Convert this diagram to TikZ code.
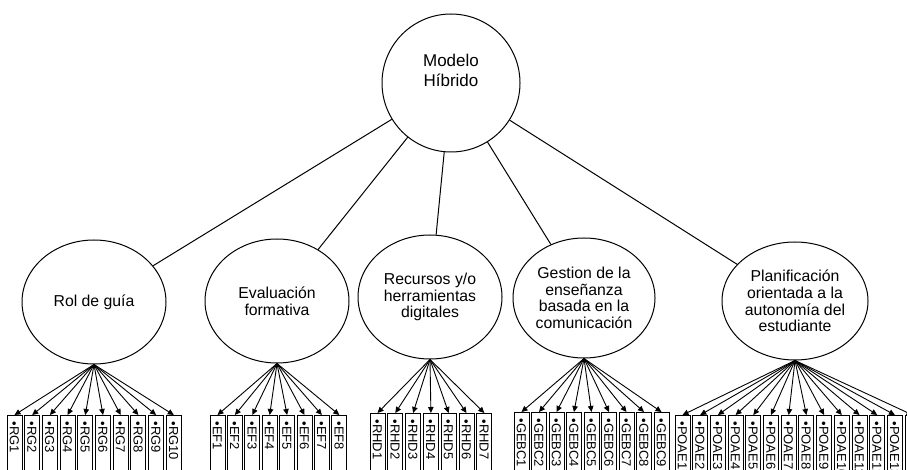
\documentclass[tikz,border=0pt]{standalone}
\usepackage{fontspec}
\setmainfont{Liberation Sans}
\usetikzlibrary{shapes.geometric,arrows.meta}
\begin{document}
\begin{tikzpicture}[x=1pt,y=-1pt,
  lat/.style={ellipse, draw, line width=1pt, minimum width=144pt, minimum height=124pt,
    inner sep=0pt, align=center, font=\fontsize{15.8}{16.7}\selectfont},
  topc/.style={circle, draw, line width=1pt, minimum size=138pt, inner sep=0pt,
    align=center, font=\fontsize{17}{20}\selectfont},
  ind/.style={draw, line width=0.9pt, rotate=-90, anchor=west, minimum width=80pt,
    minimum height=15pt, inner xsep=5pt, inner ysep=0pt, text width=68pt, align=left,
    text height=9.5pt, text depth=0pt, font=\fontsize{13}{13}\selectfont},
  arr/.style={line width=0.9pt, -{Triangle[length=6pt,width=5.5pt]}},
  link/.style={line width=1pt}]
\useasboundingbox (0,0) rectangle (907,470);
\clip (0,0) rectangle (907,470);
\node[topc] (mh) at (451,83) {Modelo\\Híbrido\\[6pt]};
\node[lat] (rg) at (94,302) {Rol de guía};
\node[lat] (ef) at (277,301) {Evaluación\\formativa};
\node[lat] (rhd) at (430,297) {Recursos y/o\\herramientas\\digitales};
\node[lat, minimum width=142pt, minimum height=120pt] (gebc) at (584,298) {Gestion de la\\enseñanza\\basada en la\\comunicación};
\node[lat, minimum width=146pt, minimum height=118pt] (poae) at (795,301) {Planificación\\orientada a la\\autonomía del\\estudiante};
\foreach \t in {rg,ef,rhd,gebc,poae} {\draw[link] (mh) -- (\t);}
\foreach \i in {1,...,10} {
  \node[ind] (rg\i) at ({14.5+17.7*(\i-1)},415) {•RG\i};
  \draw[arr] (rg.south) -- (rg\i.west);
}
\foreach \i in {1,...,8} {
  \node[ind] (ef\i) at ({217.5+17.4*(\i-1)},415) {•EF\i};
  \draw[arr] (ef.south) -- (ef\i.west);
}
\foreach \i in {1,...,7} {
  \node[ind] (rhd\i) at ({377.5+17.8*(\i-1)},413) {•RHD\i};
  \draw[arr] (rhd.south) -- (rhd\i.west);
}
\foreach \i in {1,...,9} {
  \node[ind] (gebc\i) at ({521.5+17.5*(\i-1)},412) {•GEBC\i};
  \draw[arr] (gebc.south) -- (gebc\i.west);
}
\foreach \i in {1,...,14} {
  \node[ind] (poae\i) at ({682.5+17.7*(\i-1)},415) {•POAE\i};
  \draw[arr] (poae.south) -- (poae\i.west);
}
\end{tikzpicture}
\end{document}
